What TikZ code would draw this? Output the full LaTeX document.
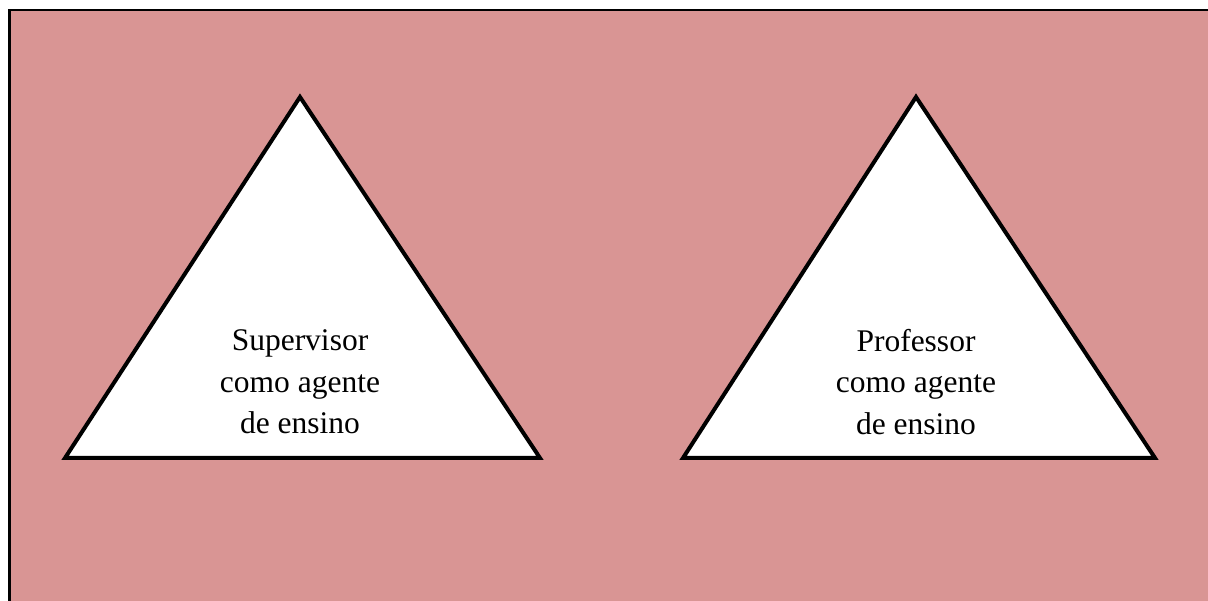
\documentclass[tikz,border=0pt]{standalone}
\usepackage{fontspec}
\setmainfont{Liberation Serif}
\definecolor{rosebg}{HTML}{D99594}
\begin{document}
\begin{tikzpicture}[x=1pt,y=-1pt,
  frame/.style={line width=2.5pt},
  tri/.style={draw=black,fill=white,line width=4pt,line join=miter},
  label/.style={align=center,font=\fontsize{31.5}{41.5}\selectfont,inner sep=0pt}]
  % page area and tinted panel
  \fill[white] (0,0) rectangle (1208,601);
  \useasboundingbox (0,0) rectangle (1208,601);
  \fill[rosebg] (9.5,10) rectangle (1208,601);
  \draw[frame] (9.5,601) -- (9.5,10) -- (1208,10);
  % left triangle
  \coordinate (lA) at (300,97);
  \coordinate (lB) at (65,458);
  \coordinate (lC) at (540,458);
  \draw[tri] (lA) -- (lB) -- (lC) -- cycle;
  \node[label] (sup) at (300,382) {Supervisor\\como agente\\de ensino};
  % right triangle
  \coordinate (rA) at (916,97);
  \coordinate (rB) at (683,458);
  \coordinate (rC) at (1155,458);
  \draw[tri] (rA) -- (rB) -- (rC) -- cycle;
  \node[label] (prof) at (916,382) {Professor\\como agente\\de ensino};
\end{tikzpicture}
\end{document}
